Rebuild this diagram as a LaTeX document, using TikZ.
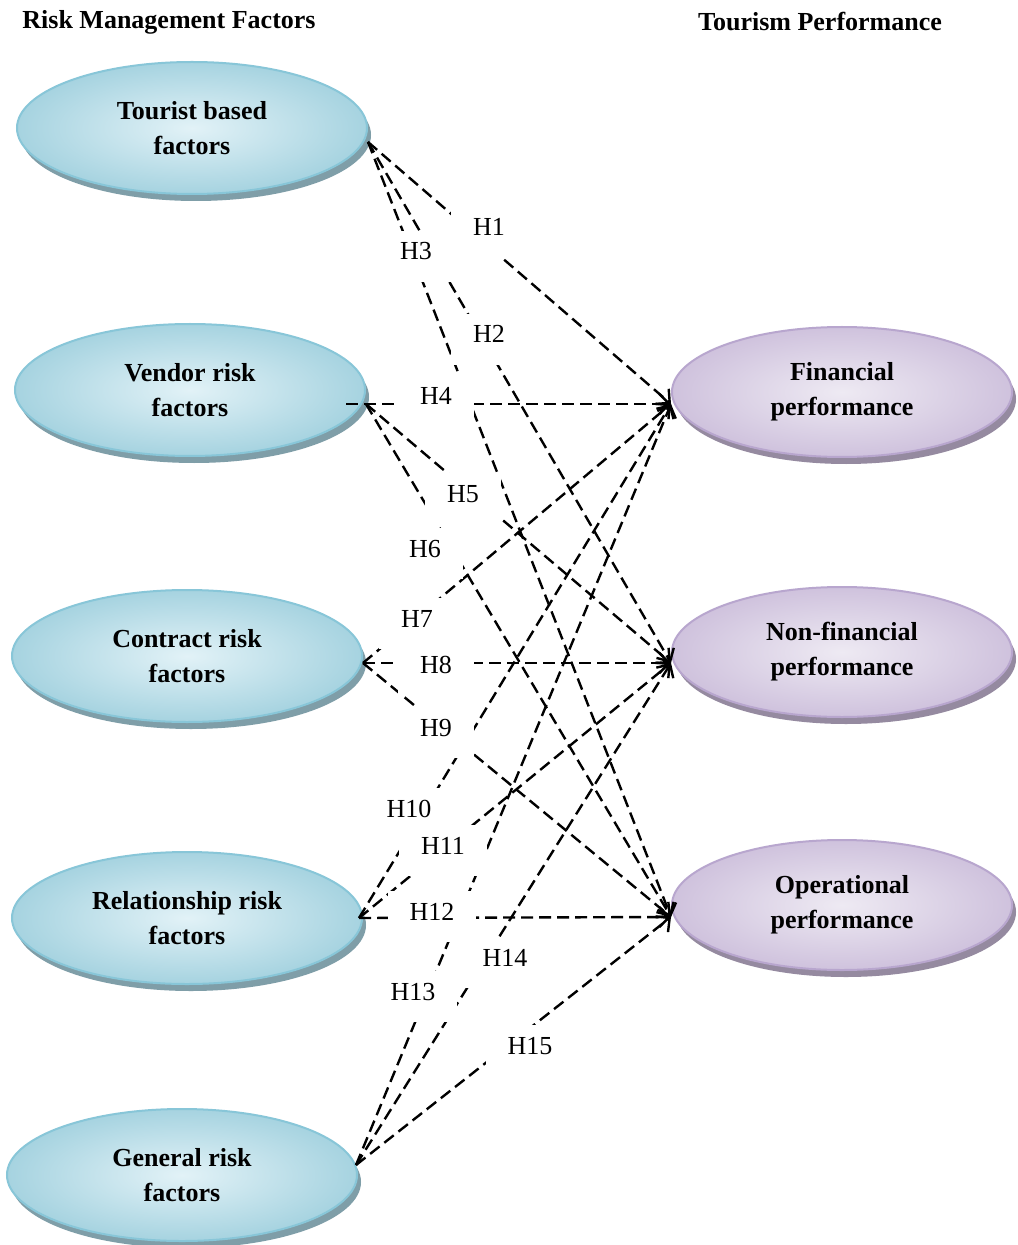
\documentclass[tikz,border=0pt]{standalone}
\usepackage{fontspec}
\setmainfont{Liberation Serif}
\usetikzlibrary{shapes.geometric,arrows.meta,shadows}
\definecolor{bluelight}{HTML}{E2F2F7}
\definecolor{bluedark}{HTML}{A6D3E0}
\definecolor{blueborder}{HTML}{88C6D8}
\definecolor{blueshadow}{HTML}{7F9EA8}
\definecolor{purplelight}{HTML}{EEEAF3}
\definecolor{purpledark}{HTML}{CFC2DD}
\definecolor{purpleborder}{HTML}{B8A6CE}
\definecolor{purpleshadow}{HTML}{958AA0}
\begin{document}
\begin{tikzpicture}[x=0.5pt,y=-0.5pt,
  ell/.style={ellipse, line width=1pt, align=center,
    font=\fontsize{13}{17.5}\selectfont\bfseries},
  lbox/.style={ell, minimum width=175pt, minimum height=66pt, draw=blueborder,
    inner color=bluelight, outer color=bluedark,
    drop shadow={shadow xshift=2pt, shadow yshift=-3.5pt, fill=blueshadow, opacity=1}},
  rbox/.style={ell, minimum width=170pt, minimum height=65pt, draw=purpleborder,
    inner color=purplelight, outer color=purpledark,
    drop shadow={shadow xshift=2pt, shadow yshift=-3.5pt, fill=purpleshadow, opacity=1}},
  hyp/.style={-{Straight Barb[length=5pt,width=10pt,line width=1.2pt]},
    line width=1.2pt, dash pattern=on 6pt off 3pt},
  hl/.style={fill=white, inner xsep=11pt, inner ysep=4pt, text height=10.6pt,
    text depth=7pt, anchor=base, font=\fontsize{13}{15}\selectfont},
  head/.style={font=\fontsize{13}{15}\selectfont\bfseries}]
\fill[white] (0,0) rectangle (1017,1245);
\useasboundingbox (0,0) rectangle (1017,1245);

\node[head] (h1) at (169,22) {Risk Management Factors};
\node[head] (h2) at (820,22) {Tourism Performance};

\node[lbox] (T) at (192,128) {Tourist based\\factors};
\node[lbox] (V) at (190,390) {Vendor risk\\factors};
\node[lbox] (C) at (187,656) {Contract risk\\factors};
\node[lbox] (R) at (187,918) {Relationship risk\\factors};
\node[lbox] (G) at (182,1175) {General risk\\factors};

\node[rbox] (F) at (842,392) {Financial\\performance};
\node[rbox] (N) at (842,652) {Non-financial\\performance};
\node[rbox] (O) at (842,905) {Operational\\performance};

\coordinate (Ts) at ([yshift=-7pt]T.east);
\coordinate (Vs) at ([yshift=-7pt]V.east);
\coordinate (Vh) at ([xshift=-10pt,yshift=-7pt]V.east);
\coordinate (Cs) at ([yshift=-3.5pt]C.east);
\coordinate (Rs) at ([xshift=-2pt]R.east);
\coordinate (Gs) at ([xshift=-1pt,yshift=5pt]G.east);
\coordinate (Fe) at ([yshift=-6pt]F.west);
\coordinate (Ne) at ([yshift=-5.5pt]N.west);
\coordinate (Oe) at ([yshift=-6pt]O.west);

\draw[hyp] (Ts) -- (Fe);
\draw[hyp] (Ts) -- (Ne);
\draw[hyp] (Ts) -- (Oe);
\draw[hyp] (Vh) -- (Fe);
\draw[hyp] (Vs) -- (Ne);
\draw[hyp] (Vs) -- (Oe);
\draw[hyp] (Cs) -- (Fe);
\draw[hyp] (Cs) -- (Ne);
\draw[hyp] (Cs) -- (Oe);
\draw[hyp] (Rs) -- (Fe);
\draw[hyp] (Rs) -- (Ne);
\draw[hyp] (Rs) -- (Oe);
\draw[hyp] (Gs) -- (Fe);
\draw[hyp] (Gs) -- (Ne);
\draw[hyp] (Gs) -- (Oe);

\node[hl] (l1) at (489,236) {H1};
\node[hl] (l2) at (489,343) {H2};
\node[hl] (l3) at (416,260) {H3};
\node[hl] (l4) at (436,405) {H4};
\node[hl] (l5) at (463,502) {H5};
\node[hl] (l6) at (425,557) {H6};
\node[hl] (l7) at (417,627) {H7};
\node[hl] (l8) at (436,673) {H8};
\node[hl] (l9) at (436,736) {H9};
\node[hl] (l10) at (409,817) {H10};
\node[hl] (l11) at (443,854) {H11};
\node[hl] (l12) at (432,920) {H12};
\node[hl] (l13) at (413,1000) {H13};
\node[hl] (l14) at (505,966) {H14};
\node[hl] (l15) at (530,1054) {H15};
\end{tikzpicture}
\end{document}
